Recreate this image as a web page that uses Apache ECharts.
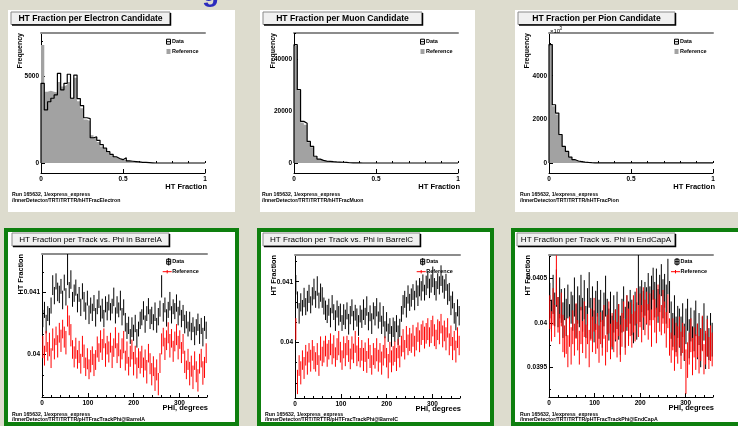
<!DOCTYPE html>
<html>
<head>
<meta charset="utf-8">
<script src="https://cdn.jsdelivr.net/npm/echarts@6/dist/echarts.min.js"></script>
<style>
html, body { margin: 0; padding: 0; background: #dddcce; }
#c { width: 738px; height: 426px; }
</style>
</head>
<body>
<div id="c"></div>
<script>
// ---------- HT fraction histograms (50 bins of 0.02 on 0..1) ----------
const HT_BIN = 0.02;
const electronData = [
  4580, 3050, 3520, 3720, 3910, 5150, 4200, 4580, 5100, 3720,
  5050, 3700, 3300, 2600, 2550, 1450, 1500, 1300, 1050, 850,
  650, 500, 360, 260, 190, 300, 120, 100, 80, 60,
  40, 30, 20, 10, 0, 0, 0, 0, 0, 0,
  0, 0, 0, 0, 0, 0, 0, 0, 0, 0];
const electronRef = [
  6780, 4100, 4150, 4100, 4050, 4650, 4400, 4500, 4650, 3750,
  4900, 3550, 3150, 2500, 2400, 1600, 1450, 1200, 950, 800,
  600, 450, 350, 250, 200, 150, 110, 80, 60, 40,
  30, 20, 10, 5, 0, 0, 0, 0, 0, 0,
  0, 0, 0, 0, 0, 0, 0, 0, 0, 0];
const muonData = [
  45500, 28200, 16000, 15300, 8300, 6400, 2600, 1500, 1000, 750,
  650, 500, 420, 350, 280, 200, 100, 70, 40, 20,
  0, 0, 0, 0, 0, 0, 0, 0, 0, 0,
  0, 0, 0, 0, 0, 0, 0, 0, 0, 0,
  0, 0, 0, 0, 0, 0, 0, 0, 0, 0];
const muonRef = [
  45000, 27800, 15600, 14700, 8000, 6100, 2400, 1400, 950, 700,
  600, 470, 400, 330, 260, 180, 90, 60, 35, 15,
  0, 0, 0, 0, 0, 0, 0, 0, 0, 0,
  0, 0, 0, 0, 0, 0, 0, 0, 0, 0,
  0, 0, 0, 0, 0, 0, 0, 0, 0, 0];
// pion counts are in units of 10^3
const pionData = [
  5430, 2670, 2290, 1300, 760, 530, 270, 150, 90, 60,
  40, 25, 15, 8, 0, 0, 0, 0, 0, 0,
  0, 0, 0, 0, 0, 0, 0, 0, 0, 0,
  0, 0, 0, 0, 0, 0, 0, 0, 0, 0,
  0, 0, 0, 0, 0, 0, 0, 0, 0, 0];
const pionRef = [
  5400, 2600, 2220, 1260, 730, 500, 255, 140, 85, 55,
  35, 22, 12, 6, 0, 0, 0, 0, 0, 0,
  0, 0, 0, 0, 0, 0, 0, 0, 0, 0,
  0, 0, 0, 0, 0, 0, 0, 0, 0, 0,
  0, 0, 0, 0, 0, 0, 0, 0, 0, 0];

// ---------- HT fraction per track vs. phi (100 bins of 3.6 deg) ----------
const PHI_BIN = 3.6;
const ERR_UNIT = 1e-5; // error arrays are stored in units of 1e-5
const barrelAData = [
  0.04058, 0.04072, 0.04049, 0.04066, 0.04061, 0.04079, 0.04112, 0.04095, 0.04118, 0.04101,
  0.04097, 0.04110, 0.04088, 0.04116, 0.04093, 0.04140, 0.04104, 0.04121, 0.04089, 0.04099,
  0.04108, 0.04083, 0.04097, 0.04076, 0.04102, 0.04085, 0.04070, 0.04091, 0.04064, 0.04079,
  0.04068, 0.04083, 0.04060, 0.04077, 0.04089, 0.04066, 0.04074, 0.04058, 0.04081, 0.04070,
  0.04084, 0.04069, 0.04078, 0.04093, 0.04063, 0.04080, 0.04072, 0.04087, 0.04061, 0.04076,
  0.04052, 0.04038, 0.04047, 0.04029, 0.04044, 0.04035, 0.04050, 0.04026, 0.04041, 0.04055,
  0.04060, 0.04071, 0.04049, 0.04066, 0.04078, 0.04057, 0.04063, 0.04052, 0.04069, 0.04047,
  0.04061, 0.04074, 0.04110, 0.04068, 0.04080, 0.04059, 0.04072, 0.04086, 0.04064, 0.04077,
  0.04070, 0.04083, 0.04062, 0.04075, 0.04058, 0.04067, 0.04049, 0.04056, 0.04041, 0.04053,
  0.04037, 0.04048, 0.04030, 0.04044, 0.04052, 0.04033, 0.04046, 0.04028, 0.04050, 0.04039];
const barrelADataErr = [
  14, 13, 15, 12, 14, 13, 16, 14, 13, 15,
  14, 12, 15, 13, 14, 28, 13, 15, 12, 14,
  13, 15, 12, 14, 13, 16, 14, 12, 15, 13,
  14, 13, 15, 12, 14, 13, 16, 14, 13, 15,
  13, 14, 12, 15, 13, 14, 12, 16, 14, 13,
  15, 13, 14, 12, 16, 13, 14, 15, 12, 14,
  13, 15, 14, 12, 13, 16, 14, 13, 15, 12,
  14, 13, 18, 15, 12, 14, 13, 15, 14, 12,
  13, 14, 15, 12, 14, 13, 15, 14, 12, 16,
  14, 12, 15, 13, 14, 16, 13, 15, 12, 14];
const barrelARef = [
  0.04012, 0.03998, 0.04021, 0.04005, 0.04016, 0.03994, 0.04024, 0.04009, 0.04030, 0.04013,
  0.04035, 0.04022, 0.04041, 0.04028, 0.04019, 0.04062, 0.04047, 0.04031, 0.04008, 0.03996,
  0.04010, 0.03992, 0.04004, 0.03985, 0.04013, 0.03997, 0.03980, 0.03993, 0.03976, 0.03989,
  0.03998, 0.03983, 0.03991, 0.04012, 0.04003, 0.04021, 0.04008, 0.04026, 0.03999, 0.04015,
  0.04004, 0.04019, 0.03996, 0.04011, 0.04027, 0.04002, 0.04016, 0.03993, 0.04009, 0.04020,
  0.03990, 0.04003, 0.03981, 0.03997, 0.04008, 0.03985, 0.03999, 0.03978, 0.03994, 0.03987,
  0.03996, 0.03979, 0.03991, 0.03972, 0.04002, 0.03985, 0.03968, 0.03981, 0.03960, 0.03975,
  0.03952, 0.03986, 0.04017, 0.04028, 0.04009, 0.04023, 0.04035, 0.04014, 0.04026, 0.04005,
  0.04021, 0.04032, 0.04011, 0.04024, 0.04003, 0.04017, 0.03988, 0.03975, 0.03992, 0.03969,
  0.03981, 0.03963, 0.03990, 0.03972, 0.03958, 0.03985, 0.03994, 0.03970, 0.03979, 0.04002];
const barrelARefErr = [
  18, 16, 17, 15, 19, 16, 18, 17, 15, 18,
  16, 18, 15, 17, 19, 17, 16, 18, 15, 17,
  17, 15, 18, 16, 17, 19, 15, 17, 16, 18,
  15, 18, 16, 17, 15, 18, 17, 16, 19, 15,
  17, 16, 18, 15, 17, 16, 19, 15, 17, 18,
  16, 18, 15, 17, 16, 19, 15, 17, 16, 18,
  18, 16, 17, 19, 15, 17, 18, 16, 19, 17,
  18, 16, 17, 15, 18, 16, 17, 19, 15, 17,
  16, 17, 19, 15, 17, 16, 18, 15, 17, 19,
  17, 19, 15, 17, 18, 16, 15, 19, 17, 16];

const barrelCData = [
  0.04095, 0.04070, 0.04048, 0.04066, 0.04057, 0.04074, 0.04059, 0.04068, 0.04080, 0.04062,
  0.04076, 0.04088, 0.04071, 0.04093, 0.04069, 0.04082, 0.04074, 0.04060, 0.04053, 0.04047,
  0.04058, 0.04041, 0.04063, 0.04050, 0.04036, 0.04055, 0.04044, 0.04049, 0.04032, 0.04046,
  0.04038, 0.04052, 0.04030, 0.04045, 0.04057, 0.04036, 0.04049, 0.04041, 0.04028, 0.04047,
  0.04039, 0.04054, 0.04043, 0.04060, 0.04035, 0.04048, 0.04031, 0.04052, 0.04044, 0.04058,
  0.04037, 0.04050, 0.04029, 0.04043, 0.04021, 0.04034, 0.04016, 0.04027, 0.04010, 0.04025,
  0.04018, 0.04031, 0.04012, 0.04024, 0.04047, 0.04062, 0.04071, 0.04058, 0.04079, 0.04066,
  0.04074, 0.04083, 0.04069, 0.04088, 0.04077, 0.04091, 0.04085, 0.04098, 0.04082, 0.04094,
  0.04103, 0.04089, 0.04097, 0.04108, 0.04092, 0.04085, 0.04101, 0.04094, 0.04110, 0.04096,
  0.04088, 0.04099, 0.04079, 0.04083, 0.04061, 0.04070, 0.04048, 0.04035, 0.04057, 0.04044];
const barrelCDataErr = [
  16, 14, 17, 15, 13, 16, 14, 17, 15, 14,
  15, 17, 14, 16, 13, 15, 17, 14, 16, 15,
  14, 16, 15, 13, 17, 14, 16, 15, 13, 17,
  16, 14, 17, 15, 14, 16, 13, 15, 17, 14,
  15, 17, 14, 16, 15, 13, 17, 14, 16, 15,
  14, 16, 15, 17, 14, 16, 15, 13, 17, 16,
  17, 14, 16, 15, 13, 16, 14, 17, 15, 14,
  15, 13, 16, 14, 17, 15, 16, 14, 13, 16,
  14, 16, 15, 17, 14, 16, 13, 15, 17, 14,
  16, 14, 17, 15, 16, 14, 17, 15, 14, 16];
const barrelCRef = [
  0.04022, 0.03935, 0.03962, 0.03950, 0.03971, 0.03958, 0.03979, 0.03966, 0.03983, 0.03970,
  0.03987, 0.03975, 0.03968, 0.03981, 0.03962, 0.03990, 0.03977, 0.03985, 0.03994, 0.03979,
  0.03988, 0.03997, 0.03981, 0.03993, 0.03976, 0.03989, 0.03999, 0.03984, 0.03971, 0.03992,
  0.03980, 0.03995, 0.03986, 0.03973, 0.03991, 0.03982, 0.04001, 0.03978, 0.03989, 0.03975,
  0.03987, 0.03972, 0.03984, 0.03968, 0.03990, 0.03977, 0.03963, 0.03981, 0.03974, 0.03988,
  0.03970, 0.03983, 0.03966, 0.03979, 0.03992, 0.03975, 0.03961, 0.03984, 0.03969, 0.03978,
  0.03985, 0.03972, 0.03990, 0.03977, 0.03994, 0.04003, 0.03988, 0.04009, 0.03996, 0.04005,
  0.03999, 0.04011, 0.03994, 0.04006, 0.04017, 0.04002, 0.04013, 0.04020, 0.04008, 0.04015,
  0.04022, 0.04009, 0.04018, 0.04027, 0.04012, 0.04005, 0.04021, 0.04016, 0.04031, 0.04010,
  0.04019, 0.04006, 0.04024, 0.03997, 0.04011, 0.03990, 0.04003, 0.03985, 0.04008, 0.03995];
const barrelCRefErr = [
  18, 20, 17, 19, 16, 18, 17, 19, 16, 18,
  17, 19, 16, 18, 17, 20, 16, 18, 17, 19,
  16, 18, 17, 19, 16, 18, 20, 17, 16, 18,
  19, 16, 18, 17, 19, 16, 18, 17, 20, 16,
  17, 19, 16, 18, 17, 19, 16, 18, 17, 19,
  18, 16, 19, 17, 18, 16, 20, 17, 18, 16,
  17, 19, 16, 18, 17, 19, 16, 18, 17, 19,
  16, 18, 17, 19, 16, 18, 17, 16, 18, 17,
  18, 16, 19, 17, 18, 16, 17, 19, 16, 18,
  17, 19, 16, 18, 17, 19, 16, 18, 17, 16];

const endCapAData = [
  0.04025, 0.04008, 0.04032, 0.04015, 0.04039, 0.04012, 0.04028, 0.04019, 0.04003, 0.04021,
  0.04006, 0.04024, 0.03998, 0.04017, 0.04011, 0.04029, 0.04002, 0.04020, 0.04013, 0.04034,
  0.04009, 0.04026, 0.04001, 0.04018, 0.04037, 0.04005, 0.04022, 0.03996, 0.04014, 0.04027,
  0.04004, 0.04019, 0.03993, 0.04015, 0.04030, 0.04007, 0.03998, 0.04013, 0.03989, 0.04010,
  0.03997, 0.04014, 0.04001, 0.03986, 0.04008, 0.04023, 0.03995, 0.04011, 0.04003, 0.04018,
  0.04006, 0.03999, 0.04016, 0.04002, 0.04055, 0.04021, 0.04030, 0.04014, 0.04027, 0.04019,
  0.04035, 0.04022, 0.04031, 0.04044, 0.04026, 0.04038, 0.04019, 0.04033, 0.04048, 0.04027,
  0.04036, 0.04021, 0.04052, 0.04029, 0.04003, 0.03992, 0.04008, 0.03987, 0.04001, 0.03994,
  0.03985, 0.04003, 0.03978, 0.03996, 0.04009, 0.03982, 0.03998, 0.03975, 0.03991, 0.04005,
  0.03979, 0.03993, 0.03972, 0.03988, 0.04001, 0.03968, 0.03985, 0.03976, 0.03990, 0.03981];
const endCapADataErr = [
  20, 18, 22, 19, 21, 17, 23, 19, 20, 18,
  21, 19, 23, 18, 20, 22, 19, 21, 18, 20,
  19, 22, 18, 21, 20, 23, 19, 18, 22, 20,
  22, 18, 21, 19, 23, 20, 18, 22, 19, 21,
  18, 21, 20, 22, 19, 18, 23, 20, 21, 19,
  20, 22, 19, 21, 35, 20, 18, 22, 19, 21,
  21, 19, 22, 18, 20, 23, 19, 21, 18, 22,
  19, 22, 20, 18, 21, 19, 23, 20, 18, 22,
  22, 19, 21, 20, 18, 22, 19, 21, 23, 20,
  20, 18, 22, 19, 21, 20, 23, 18, 21, 19];
const endCapARef = [
  0.04012, 0.03996, 0.04018, 0.04002, 0.04048, 0.04009, 0.03993, 0.04015, 0.03988, 0.03979,
  0.03985, 0.03968, 0.03990, 0.03974, 0.03995, 0.03981, 0.04002, 0.03986, 0.03972, 0.03997,
  0.03984, 0.04004, 0.03979, 0.03993, 0.03971, 0.03998, 0.03987, 0.04009, 0.03982, 0.03991,
  0.03976, 0.03994, 0.03983, 0.04001, 0.03969, 0.03988, 0.04006, 0.03979, 0.03992, 0.03985,
  0.03998, 0.03981, 0.04003, 0.03977, 0.03992, 0.04007, 0.03984, 0.04013, 0.03995, 0.04004,
  0.03991, 0.04010, 0.03996, 0.04019, 0.04002, 0.04014, 0.03999, 0.04023, 0.04006, 0.04017,
  0.04001, 0.04015, 0.03994, 0.04020, 0.04008, 0.03997, 0.04025, 0.04011, 0.04003, 0.04018,
  0.04006, 0.03992, 0.04013, 0.03984, 0.03972, 0.03987, 0.03966, 0.03981, 0.03975, 0.03990,
  0.03969, 0.03983, 0.03977, 0.03945, 0.03958, 0.03971, 0.03986, 0.03962, 0.03978, 0.03967,
  0.03980, 0.03964, 0.03975, 0.03988, 0.03959, 0.03972, 0.03983, 0.03966, 0.03977, 0.03970];
const endCapARefErr = [
  19, 17, 21, 18, 28, 20, 17, 19, 21, 18,
  20, 18, 17, 21, 19, 18, 20, 17, 19, 21,
  18, 20, 19, 17, 21, 18, 20, 19, 17, 20,
  21, 18, 20, 19, 17, 21, 18, 20, 19, 18,
  17, 20, 18, 21, 19, 17, 20, 18, 21, 19,
  19, 21, 17, 20, 18, 19, 21, 17, 20, 18,
  20, 18, 21, 17, 19, 20, 18, 21, 17, 19,
  18, 20, 19, 21, 17, 18, 20, 19, 21, 17,
  21, 17, 19, 25, 20, 18, 19, 21, 17, 20,
  19, 21, 18, 20, 17, 19, 21, 18, 20, 19];

// ---------- text ----------
const RUN_LINE = 'Run 165632, 1/express_express';
const DIR = '/InnerDetector/TRT/TRTTR/';
const htTickLabels = [0, 0.5, 1];
const phiTickLabels = [0, 100, 200, 300];

// ---------- page layout ----------
const FONT = "'Liberation Sans', Arial, Helvetica, sans-serif";
const GREEN = '#0e7f0e';
const REF_GREY = '#a2a2a2';

const histPanels = [
  { title: 'HT Fraction per Electron Candidate', name: 'hHTFracElectron', data: electronData, ref: electronRef,
    box: [8, 10, 227, 202], titleBox: [11, 12, 159, 12.5], grid: [41, 33, 164, 140],
    y: [-575, 7470], yMajor: [0, 5000], yMinorStep: 1000, legendX: 166.5, yTitleX: 20, footX: 12 },
  { title: 'HT Fraction per Muon Candidate', name: 'hHTFracMuon', data: muonData, ref: muonRef,
    box: [260, 10, 215, 202], titleBox: [263, 12, 159, 12.5], grid: [294, 33, 164, 140],
    y: [-3850, 50000], yMajor: [0, 20000, 40000], yMinorStep: 5000, legendX: 420.5, yTitleX: 273, footX: 262 },
  { title: 'HT Fraction per Pion Candidate', name: 'hHTFracPion', data: pionData, ref: pionRef,
    box: [515, 10, 230, 202], titleBox: [518, 12, 157, 12.5], grid: [549, 33, 164, 140],
    y: [-460, 5960], yMajor: [0, 2000, 4000], yMinorStep: 500, legendX: 674.5, yTitleX: 527, footX: 520,
    exponent: true }
];
const profilePanels = [
  { title: 'HT Fraction per Track vs. Phi in BarrelA', name: 'pHTFracTrackPhi@BarrelA',
    data: barrelAData, dataErr: barrelADataErr, ref: barrelARef, refErr: barrelARefErr,
    frame: [6, 230, 231, 194], titleBox: [12, 233, 157, 13], grid: [42, 254, 165, 143],
    y: [0.039312, 0.041623], yMajor: [0.04, 0.041], yMinorStep: 0.001 / 3, legendX: 166.7, yTitleX: 21, footX: 12 },
  { title: 'HT Fraction per Track vs. Phi in BarrelC', name: 'pHTFracTrackPhi@BarrelC',
    data: barrelCData, dataErr: barrelCDataErr, ref: barrelCRef, refErr: barrelCRefErr,
    frame: [259, 230, 233, 194], titleBox: [263, 233, 157, 13], grid: [295, 255, 165, 143],
    y: [0.039086, 0.04144], yMajor: [0.04, 0.041], yMinorStep: 0.001 / 3, legendX: 420.7, yTitleX: 274, footX: 265 },
  { title: 'HT Fraction per Track vs. Phi in EndCapA', name: 'pHTFracTrackPhi@EndCapA',
    data: endCapAData, dataErr: endCapADataErr, ref: endCapARef, refErr: endCapARefErr,
    frame: [513, 230, 240, 194], titleBox: [517, 233, 158, 13], grid: [549, 255, 164, 142],
    y: [0.039165, 0.040763], yMajor: [0.0395, 0.04, 0.0405], yMinorStep: 0.00025, legendX: 675, yTitleX: 527.5, footX: 520 }
];

// ---------- helpers ----------
function multiples(min, max, step) {
  const out = [];
  for (let k = Math.ceil(min / step - 1e-6); k * step <= max + 1e-12; k++) out.push(+(k * step).toFixed(10));
  return out;
}
const fmt = v => String(Math.round(v * 1e6) / 1e6);

const grids = [], xAxes = [], yAxes = [], series = [], gfx = [];

function addAxes(gridIdx, g, xr, xMajor, xMinorStep, yr, yMajor, yMinorStep) {
  grids.push({ left: g[0], top: g[1], width: g[2], height: g[3], containLabel: false, outerBoundsMode: 'none' });
  const common = { gridIndex: gridIdx, type: 'value', splitLine: { show: false } };
  const xi = xAxes.length, yi = yAxes.length;
  // x: labelled major ticks, minor ticks, grey frame line on top
  xAxes.push(Object.assign({}, common, {
    position: 'bottom', min: xr[0], max: xr[1],
    axisLine: { onZero: false, lineStyle: { color: '#000', width: 1 } },
    axisTick: { inside: true, length: 4, customValues: xMajor, lineStyle: { color: '#000' } },
    axisLabel: { customValues: xMajor, formatter: fmt, margin: 2.5, color: '#000',
      fontFamily: FONT, fontWeight: 'bold', fontSize: 6.5 }
  }));
  xAxes.push(Object.assign({}, common, {
    position: 'bottom', min: xr[0], max: xr[1],
    axisLine: { show: false },
    axisTick: { inside: true, length: 2, customValues: multiples(xr[0], xr[1], xMinorStep), lineStyle: { color: '#000' } },
    axisLabel: { show: false }
  }));
  xAxes.push(Object.assign({}, common, {
    position: 'top', min: xr[0], max: xr[1],
    axisLine: { onZero: false, lineStyle: { color: '#8c8c8c', width: 2 } },
    axisTick: { show: false }, axisLabel: { show: false }
  }));
  yAxes.push(Object.assign({}, common, {
    position: 'left', min: yr[0], max: yr[1],
    axisLine: { onZero: false, lineStyle: { color: '#000', width: 1 } },
    axisTick: { inside: true, length: 4, customValues: yMajor, lineStyle: { color: '#000' } },
    axisLabel: { customValues: yMajor, formatter: fmt, margin: 2, color: '#000',
      fontFamily: FONT, fontWeight: 'bold', fontSize: 6.5 }
  }));
  yAxes.push(Object.assign({}, common, {
    position: 'left', min: yr[0], max: yr[1],
    axisLine: { show: false },
    axisTick: { inside: true, length: 2, customValues: multiples(yr[0], yr[1], yMinorStep), lineStyle: { color: '#000' } },
    axisLabel: { show: false }
  }));
  return { xi, yi };
}

function titleBox(b, text, bold, size) {
  gfx.push({ type: 'rect', z: 50, shape: { x: b[0], y: b[1], width: b[2], height: b[3] },
    style: { fill: '#f0f0f0', stroke: '#8a8a8a', lineWidth: 1 } });
  gfx.push({ type: 'polyline', z: 51, shape: { points: [[b[0] + b[2] + 0.5, b[1] + 1], [b[0] + b[2] + 0.5, b[1] + b[3] + 0.5], [b[0] + 1, b[1] + b[3] + 0.5]] },
    style: { stroke: '#000', lineWidth: 1.5, fill: null } });
  gfx.push({ type: 'text', z: 52, x: b[0] + b[2] / 2, y: b[1] + b[3] / 2 + 0.5,
    style: { text, fill: '#000', font: (bold ? 'bold ' : '') + size + 'px ' + FONT, align: 'center', verticalAlign: 'middle' } });
}
function label(x, y, text, size, opts) {
  gfx.push(Object.assign({ type: 'text', z: 60, x, y,
    style: Object.assign({ text, fill: '#000', font: 'bold ' + size + 'px ' + FONT, align: 'left', verticalAlign: 'middle' }, (opts && opts.style) || {}) },
    opts && opts.rotation !== undefined ? { rotation: opts.rotation } : {}));
}
function footer(x, y, name) {
  label(x, y, RUN_LINE, 5.2);
  label(x, y + 5.2, DIR + name, 5.2);
}
function dataIcon(x, y) {
  gfx.push({ type: 'rect', z: 60, shape: { x: x, y: y - 2.5, width: 4, height: 5 },
    style: { fill: '#fff', stroke: '#000', lineWidth: 1 } });
  gfx.push({ type: 'line', z: 61, shape: { x1: x, y1: y, x2: x + 4, y2: y }, style: { stroke: '#000', lineWidth: 1 } });
}

// slide heading descender peeking in at the top
gfx.push({ type: 'text', z: 5, x: 202, y: -21,
  style: { text: 'g', fill: '#2b2bbd', font: 'bold 28px ' + FONT, align: 'left', verticalAlign: 'top' } });

// ---------- histogram panels ----------
function stepPoints(vals) {
  const pts = [[0, 0]];
  vals.forEach((v, i) => pts.push([i * HT_BIN, v]));
  pts.push([vals.length * HT_BIN, vals[vals.length - 1]]);
  pts.push([vals.length * HT_BIN, 0]);
  return pts;
}
histPanels.forEach((p, k) => {
  gfx.push({ type: 'rect', z: -100, shape: { x: p.box[0], y: p.box[1], width: p.box[2], height: p.box[3] },
    style: { fill: '#fff' } });
  const ax = addAxes(grids.length, p.grid, [0, 1], htTickLabels, 0.1, p.y, p.yMajor, p.yMinorStep);
  series.push({ type: 'line', name: 'Reference', xAxisIndex: ax.xi, yAxisIndex: ax.yi, step: 'end',
    data: stepPoints(p.ref), showSymbol: false, symbol: 'none', lineStyle: { width: 0, color: REF_GREY },
    areaStyle: { color: REF_GREY, opacity: 1 }, z: 2, silent: true });
  series.push({ type: 'line', name: 'Data', xAxisIndex: ax.xi, yAxisIndex: ax.yi, step: 'end',
    data: stepPoints(p.data), showSymbol: false, symbol: 'none', lineStyle: { width: 1.2, color: '#000' }, z: 3, silent: true });
  titleBox(p.titleBox, p.title, true, 8.6);
  const gx = p.grid[0], gy = p.grid[1], gw = p.grid[2], gh = p.grid[3];
  label(p.yTitleX, gy, 'Frequency', 7, { rotation: Math.PI / 2, style: { align: 'right' } });
  label(gx + gw + 2, gy + gh + 14, 'HT Fraction', 7.5, { style: { align: 'right' } });
  footer(p.footX, 195, p.name);
  dataIcon(p.legendX, 41.7);
  label(p.legendX + 5.5, 41.9, 'Data', 5.5);
  gfx.push({ type: 'rect', z: 60, shape: { x: p.legendX, y: 49, width: 4, height: 5 }, style: { fill: REF_GREY } });
  label(p.legendX + 5.5, 51.7, 'Reference', 5.5);
  if (p.exponent) {
    label(gx + 1, gy - 2, '\u00d710', 6, { style: { font: '6px ' + FONT } });
    label(gx + 10.5, gy - 4.5, '3', 4.5, { style: { font: '4.5px ' + FONT } });
  }
});

// ---------- profile panels ----------
function errorBars(vals, errs, color) {
  return {
    type: 'custom', clip: true, silent: true,
    data: vals.map((v, i) => [(i + 0.5) * PHI_BIN, v, errs[i] * ERR_UNIT]),
    encode: { x: 0, y: 1 },
    renderItem(params, api) {
      const x = api.value(0), v = api.value(1), e = api.value(2);
      const hi = api.coord([x, v + e]), lo = api.coord([x, v - e]);
      return { type: 'line', shape: { x1: hi[0], y1: hi[1], x2: lo[0], y2: lo[1] }, style: { stroke: color, lineWidth: 1 } };
    }
  };
}
profilePanels.forEach(p => {
  gfx.push({ type: 'rect', z: -100, shape: { x: p.frame[0], y: p.frame[1], width: p.frame[2], height: p.frame[3] },
    style: { fill: '#fff', stroke: GREEN, lineWidth: 4 } });
  const ax = addAxes(grids.length, p.grid, [0, 360], phiTickLabels, 20, p.y, p.yMajor, p.yMinorStep);
  series.push(Object.assign(errorBars(p.data, p.dataErr, '#000'), { name: 'Data', xAxisIndex: ax.xi, yAxisIndex: ax.yi, z: 2 }));
  series.push(Object.assign(errorBars(p.ref, p.refErr, '#ff0000'), { name: 'Reference', xAxisIndex: ax.xi, yAxisIndex: ax.yi, z: 3 }));
  titleBox(p.titleBox, p.title, false, 8.1);
  const gx = p.grid[0], gy = p.grid[1], gw = p.grid[2], gh = p.grid[3];
  label(p.yTitleX, gy, 'HT Fraction', 7.3, { rotation: Math.PI / 2, style: { align: 'right' } });
  label(gx + gw + 1, gy + gh + 10.5, 'PHI, degrees', 7.5, { style: { align: 'right' } });
  footer(p.footX, 414.5, p.name);
  dataIcon(p.legendX, 261.7);
  gfx.push({ type: 'line', z: 61, shape: { x1: p.legendX + 2, y1: 258, x2: p.legendX + 2, y2: 265.5 }, style: { stroke: '#000', lineWidth: 1 } });
  label(p.legendX + 5.5, 261.9, 'Data', 5.5);
  gfx.push({ type: 'line', z: 60, shape: { x1: p.legendX - 4, y1: 271.7, x2: p.legendX + 5, y2: 271.7 }, style: { stroke: '#ff0000', lineWidth: 1 } });
  gfx.push({ type: 'line', z: 60, shape: { x1: p.legendX + 0.5, y1: 270, x2: p.legendX + 0.5, y2: 273.4 }, style: { stroke: '#ff0000', lineWidth: 1 } });
  label(p.legendX + 5.5, 271.9, 'Reference', 5.5);
});

const chart = echarts.init(document.getElementById('c'), null, { renderer: 'canvas' });
chart.setOption({
  animation: false,
  backgroundColor: '#dddcce',
  grid: grids,
  xAxis: xAxes,
  yAxis: yAxes,
  series: series,
  graphic: { elements: gfx }
});
</script>
</body>
</html>
